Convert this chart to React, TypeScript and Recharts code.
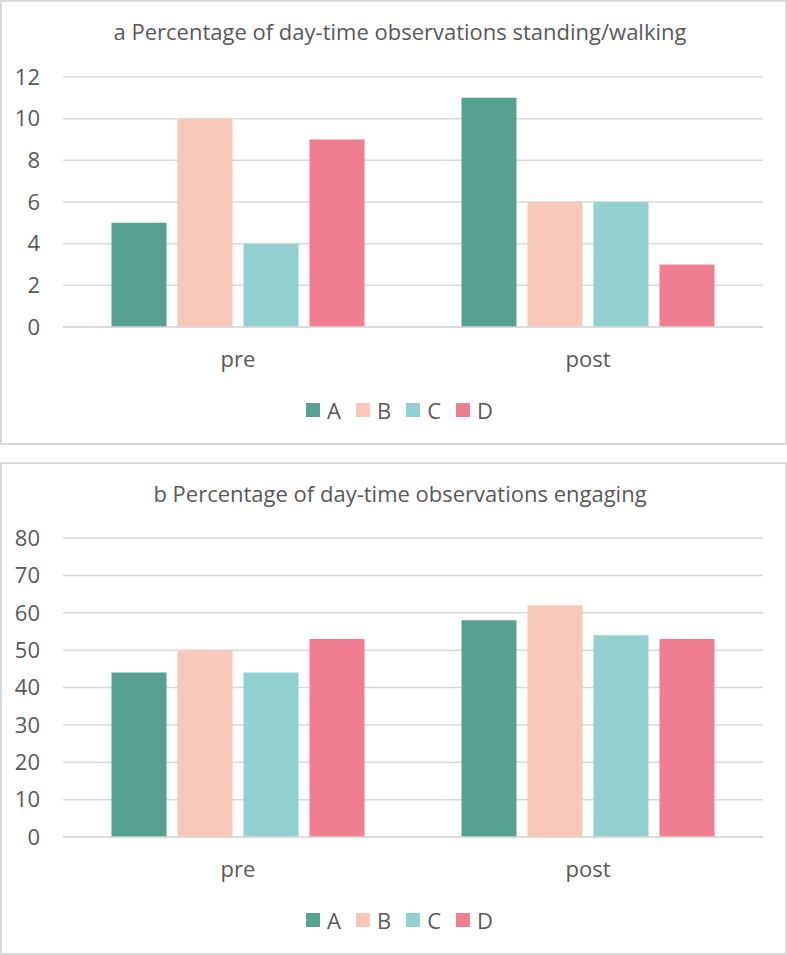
import React from 'react';
import { BarChart, Bar, XAxis, YAxis, CartesianGrid, Legend } from 'recharts';

const categories = ['pre', 'post'];
const seriesNames = ['A', 'B', 'C', 'D'];
const seriesColors = ['#57A190', '#F8C9BB', '#93D1D1', '#EF7F90'];

const standingA = [5, 11];
const standingB = [10, 6];
const standingC = [4, 6];
const standingD = [9, 3];
const standingTicks = [0, 2, 4, 6, 8, 10, 12];

const engagingA = [44, 58];
const engagingB = [50, 62];
const engagingC = [44, 54];
const engagingD = [53, 53];
const engagingTicks = [0, 10, 20, 30, 40, 50, 60, 70, 80];

const titleA = 'a Percentage of day-time observations standing/walking';
const titleB = 'b Percentage of day-time observations engaging';

const buildRows = (cols: number[][]) =>
  categories.map((c, i) => {
    const row: Record<string, any> = { cat: c };
    seriesNames.forEach((s, j) => {
      row[s] = cols[j][i];
    });
    return row;
  });

const standingRows = buildRows([standingA, standingB, standingC, standingD]);
const engagingRows = buildRows([engagingA, engagingB, engagingC, engagingD]);

const TEXT = '#595959';
const GRID = '#D9D9D9';
const FONT = '"Open Sans", sans-serif';
const FS = 22;

const LegendContent = (props: any) => {
  const payload = props.payload || [];
  return (
    <div style={{ display: 'flex', justifyContent: 'center', paddingLeft: 12, height: 24, alignItems: 'center' }}>
      {payload.map((p: any, i: number) => (
        <div key={p.value} style={{ display: 'flex', alignItems: 'center', marginRight: i < payload.length - 1 ? 15 : 0 }}>
          <div style={{ width: 14, height: 14, background: p.color }} />
          <span style={{ marginLeft: 7, fontSize: FS, color: TEXT, fontFamily: FONT, lineHeight: '24px' }}>{p.value}</span>
        </div>
      ))}
    </div>
  );
};

type PanelProps = {
  top: number;
  height: number;
  marginTop: number;
  title: string;
  rows: any[];
  ticks: number[];
};

const Panel = ({ top, height, marginTop, title, rows, ticks }: PanelProps) => (
  <div
    style={{
      position: 'absolute',
      left: 0,
      top,
      width: 787,
      height,
      boxSizing: 'border-box',
      border: `2px solid ${GRID}`,
      background: '#fff',
    }}
  >
    <div style={{ position: 'absolute', left: -2, top: -2, width: 787, height }}>
      <div
        style={{
          position: 'absolute',
          left: 0,
          top: 20,
          width: 787,
          paddingLeft: 13,
          boxSizing: 'border-box',
          textAlign: 'center',
          fontSize: FS,
          lineHeight: '22px',
          color: TEXT,
          fontFamily: FONT,
          whiteSpace: 'nowrap',
        }}
      >
        {title}
      </div>
      <BarChart
        width={787}
        height={height}
        data={rows}
        margin={{ top: marginTop, right: 24, left: 0, bottom: 23 }}
        barCategoryGap="13.86%"
        barGap={11}
        style={{ fontFamily: FONT }}
      >
        <CartesianGrid vertical={false} stroke={GRID} strokeWidth={1.5} />
        <XAxis
          dataKey="cat"
          tickLine={false}
          axisLine={{ stroke: GRID, strokeWidth: 1.5 }}
          tick={{ fontSize: FS, fill: TEXT, fontFamily: FONT }}
          tickMargin={18}
          height={71}
        />
        <YAxis
          width={63}
          domain={[0, ticks[ticks.length - 1]]}
          ticks={ticks}
          axisLine={false}
          tickLine={false}
          tickMargin={17}
          tick={{ fontSize: FS, fill: TEXT, fontFamily: FONT }}
        />
        <Legend content={<LegendContent />} verticalAlign="bottom" wrapperStyle={{ left: 0, width: 787 }} />
        {seriesNames.map((s, j) => (
          <Bar key={s} dataKey={s} fill={seriesColors[j]} isAnimationActive={false} />
        ))}
      </BarChart>
    </div>
  </div>
);

export default function App() {
  return (
    <div style={{ position: 'absolute', left: 0, top: 0, width: 787, height: 955, background: '#fff', fontFamily: FONT }}>
      <Panel top={0} height={445} marginTop={77} title={titleA} rows={standingRows} ticks={standingTicks} />
      <Panel top={462} height={493} marginTop={76} title={titleB} rows={engagingRows} ticks={engagingTicks} />
    </div>
  );
}
